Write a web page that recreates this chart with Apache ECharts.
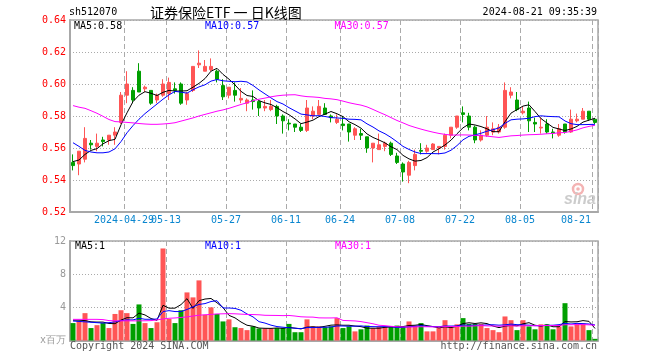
<!DOCTYPE html>
<html><head><meta charset="utf-8">
<script src="https://cdn.jsdelivr.net/npm/echarts/dist/echarts.min.js"></script>
<style>html,body{margin:0;padding:0;background:#fff}#c{width:660px;height:360px}</style>
</head><body><div id="c"></div><script>
const dates = [
 '2024-04-16','2024-04-17','2024-04-18','2024-04-19','2024-04-22','2024-04-23','2024-04-24','2024-04-25','2024-04-26','2024-04-29','2024-04-30',
 '2024-05-06','2024-05-07','2024-05-08','2024-05-09','2024-05-10','2024-05-13','2024-05-14','2024-05-15','2024-05-16','2024-05-17',
 '2024-05-20','2024-05-21','2024-05-22','2024-05-23','2024-05-24','2024-05-27','2024-05-28','2024-05-29','2024-05-30','2024-05-31',
 '2024-06-03','2024-06-04','2024-06-05','2024-06-06','2024-06-07','2024-06-11','2024-06-12','2024-06-13','2024-06-14','2024-06-17',
 '2024-06-18','2024-06-19','2024-06-20','2024-06-21','2024-06-24','2024-06-25','2024-06-26','2024-06-27','2024-06-28',
 '2024-07-01','2024-07-02','2024-07-03','2024-07-04','2024-07-05','2024-07-08','2024-07-09','2024-07-10','2024-07-11','2024-07-12',
 '2024-07-15','2024-07-16','2024-07-17','2024-07-18','2024-07-19','2024-07-22','2024-07-23','2024-07-24','2024-07-25','2024-07-26',
 '2024-07-29','2024-07-30','2024-07-31','2024-08-01','2024-08-02','2024-08-05','2024-08-06','2024-08-07','2024-08-08','2024-08-09',
 '2024-08-12','2024-08-13','2024-08-14','2024-08-15','2024-08-16','2024-08-19','2024-08-20','2024-08-21'
];
const tickIndex = [9,16,26,36,45,55,65,75,87];
const tickLabels = ['2024-04-29','05-13','05-27','06-11','06-24','07-08','07-22','08-05','08-21'];

const opens = [0.551,0.550,0.553,0.563,0.561,0.565,0.565,0.568,0.576,0.593,
 0.596,0.608,0.597,0.596,0.590,0.593,0.594,0.597,0.600,0.590,
 0.596,0.612,0.608,0.609,0.608,0.599,0.593,0.596,0.590,0.588,
 0.590,0.589,0.585,0.584,0.586,0.580,0.5755,0.575,0.573,0.571,
 0.580,0.581,0.585,0.580,0.576,0.575,0.575,0.568,0.569,0.567,
 0.560,0.559,0.561,0.563,0.555,0.550,0.543,0.549,0.5585,0.558,
 0.559,0.560,0.561,0.568,0.573,0.582,0.580,0.573,0.565,0.568,
 0.570,0.570,0.573,0.593,0.590,0.582,0.585,0.576,0.5725,0.575,
 0.570,0.568,0.575,0.570,0.577,0.578,0.583,0.578];
const closes = [0.549,0.558,0.566,0.562,0.563,0.564,0.568,0.570,0.593,0.600,
 0.590,0.595,0.598,0.588,0.593,0.600,0.601,0.596,0.588,0.594,
 0.611,0.613,0.611,0.611,0.603,0.592,0.598,0.593,0.591,0.590,
 0.589,0.585,0.586,0.586,0.580,0.577,0.575,0.573,0.571,0.585,
 0.583,0.586,0.581,0.579,0.578,0.574,0.570,0.572,0.568,0.560,
 0.563,0.562,0.563,0.556,0.551,0.545,0.551,0.556,0.558,0.560,
 0.5625,0.561,0.568,0.573,0.580,0.581,0.573,0.565,0.568,0.573,
 0.572,0.573,0.596,0.595,0.584,0.583,0.577,0.575,0.573,0.570,
 0.5695,0.572,0.570,0.578,0.578,0.583,0.578,0.576];
const highs = [0.556,0.558,0.573,0.565,0.569,0.567,0.568,0.573,0.595,0.608,
 0.598,0.613,0.599,0.596,0.594,0.603,0.604,0.601,0.601,0.595,
 0.611,0.621,0.615,0.616,0.609,0.603,0.598,0.601,0.5975,0.591,
 0.596,0.589,0.590,0.590,0.587,0.581,0.578,0.575,0.575,0.590,
 0.586,0.590,0.588,0.581,0.581,0.580,0.575,0.573,0.572,0.567,
 0.563,0.569,0.564,0.564,0.557,0.551,0.552,0.559,0.563,0.562,
 0.563,0.561,0.569,0.573,0.580,0.586,0.582,0.574,0.571,0.580,
 0.576,0.575,0.601,0.598,0.595,0.586,0.589,0.579,0.579,0.578,
 0.572,0.575,0.575,0.584,0.5815,0.585,0.583,0.578];
const lows = [0.546,0.543,0.551,0.559,0.558,0.561,0.562,0.562,0.575,0.588,
 0.588,0.595,0.595,0.587,0.588,0.592,0.590,0.594,0.587,0.587,
 0.595,0.610,0.608,0.608,0.601,0.590,0.591,0.589,0.588,0.583,
 0.584,0.580,0.583,0.583,0.575,0.569,0.571,0.570,0.570,0.570,
 0.578,0.581,0.581,0.576,0.575,0.571,0.564,0.565,0.565,0.557,
 0.551,0.559,0.558,0.555,0.550,0.539,0.538,0.546,0.556,0.557,
 0.559,0.556,0.559,0.566,0.572,0.576,0.571,0.563,0.564,0.567,
 0.568,0.569,0.572,0.591,0.583,0.581,0.570,0.570,0.569,0.569,
 0.566,0.567,0.569,0.5695,0.576,0.578,0.577,0.575];

const ma5 = [0.5515,0.5525,0.5560,0.5585,0.5596,0.5626,0.5646,0.5654,0.5745,0.5820,
 0.5890,0.5930,0.5952,0.5942,0.5928,0.5948,0.5960,0.5956,0.5956,0.5958,
 0.5980,0.6004,0.6034,0.6080,0.6098,0.6060,0.6030,0.5994,0.5954,0.5928,
 0.5922,0.5896,0.5882,0.5872,0.5852,0.5828,0.5808,0.5782,0.5752,0.5762,
 0.5774,0.5796,0.5812,0.5828,0.5814,0.5796,0.5764,0.5746,0.5724,0.5688,
 0.5666,0.5650,0.5632,0.5608,0.5590,0.5554,0.5532,0.5518,0.5522,0.5540,
 0.5575,0.5595,0.5619,0.5649,0.5689,0.5726,0.5750,0.5744,0.5734,0.5720,
 0.5702,0.5702,0.5764,0.5818,0.5840,0.5862,0.5870,0.5828,0.5784,0.5756,
 0.5729,0.5719,0.5709,0.5719,0.5735,0.5762,0.5774,0.5786];
const ma10 = [0.5633,0.5610,0.5585,0.5575,0.5570,0.5570,0.5575,0.5595,0.5640,0.5695,
 0.5740,0.5780,0.5815,0.5845,0.5875,0.5905,0.5932,0.5954,0.5949,0.5943,
 0.5964,0.5982,0.5995,0.6018,0.6028,0.6020,0.6017,0.6014,0.6017,0.6013,
 0.5991,0.5963,0.5938,0.5913,0.5890,0.5875,0.5852,0.5832,0.5812,0.5807,
 0.5801,0.5802,0.5797,0.5790,0.5788,0.5785,0.5780,0.5779,0.5776,0.5751,
 0.5731,0.5707,0.5689,0.5666,0.5639,0.5610,0.5591,0.5575,0.5565,0.5565,
 0.5565,0.5564,0.5569,0.5586,0.5615,0.5651,0.5673,0.5682,0.5692,0.5705,
 0.5714,0.5726,0.5754,0.5776,0.5780,0.5782,0.5786,0.5796,0.5801,0.5798,
 0.5796,0.5795,0.5769,0.5752,0.5746,0.5746,0.5747,0.5748];
const ma30 = [0.5865,0.5855,0.5848,0.5833,0.5817,0.5798,0.5778,0.5765,0.5763,0.5760,
 0.5757,0.5753,0.5750,0.5748,0.5748,0.5750,0.5753,0.5758,0.5768,0.5778,
 0.5788,0.5800,0.5810,0.5820,0.5830,0.5838,0.5848,0.5860,0.5872,0.5883,
 0.5896,0.5905,0.5912,0.5920,0.5926,0.5930,0.5932,0.5933,0.5926,0.5921,
 0.5919,0.5916,0.5910,0.5907,0.5902,0.5893,0.5883,0.5875,0.5868,0.5857,
 0.5841,0.5824,0.5808,0.5790,0.5772,0.5757,0.5741,0.5729,0.5718,0.5708,
 0.5699,0.5691,0.5685,0.5681,0.5681,0.5682,0.5681,0.5679,0.5678,0.5674,
 0.5670,0.5666,0.5671,0.5676,0.5678,0.5681,0.5683,0.5684,0.5686,0.5689,
 0.5691,0.5695,0.5697,0.5704,0.5713,0.5726,0.5735,0.5742];

const volumes = [2.1,2.35,3.3,1.5,1.85,2.1,1.5,3.2,3.65,3.3,
 2.0,4.35,2.1,1.5,2.2,11.1,2.6,2.1,3.65,5.8,
 5.2,7.25,3.1,4.0,3.2,2.3,2.55,1.6,1.5,1.25,
 1.7,1.45,1.45,1.45,1.5,1.5,2.0,1.0,1.0,2.55,
 1.7,1.7,1.6,1.7,2.7,1.5,1.7,1.1,1.35,1.8,
 1.5,1.65,1.65,1.65,1.8,1.65,2.3,1.8,2.1,1.1,
 1.1,1.5,2.45,1.6,1.95,2.7,2.0,2.0,2.0,1.5,
 1.25,1.0,2.9,2.45,1.25,2.45,1.7,1.35,1.95,1.95,
 1.35,1.7,4.5,1.7,2.05,2.05,1.25,0.2];
const vma5 = [2.45,2.45,2.40,2.25,2.22,2.22,2.05,2.03,2.46,2.75,
 2.73,3.30,3.08,2.65,2.43,4.25,3.90,3.90,4.33,5.05,
 3.87,4.80,5.00,5.07,4.55,3.97,3.03,2.73,2.23,1.84,
 1.72,1.50,1.47,1.46,1.51,1.47,1.58,1.49,1.40,1.61,
 1.65,1.59,1.71,1.85,1.88,1.84,1.84,1.74,1.67,1.49,
 1.49,1.48,1.59,1.65,1.65,1.68,1.81,1.84,1.93,1.79,
 1.68,1.52,1.65,1.55,1.72,2.04,2.14,2.05,2.13,2.04,
 1.75,1.55,1.73,1.82,1.77,2.01,2.15,1.84,1.74,1.88,
 1.66,1.66,2.29,2.24,2.26,2.40,2.31,1.45];
const vma10 = [2.35,2.30,2.25,2.20,2.15,2.10,2.15,2.25,2.40,2.49,
 2.48,2.68,2.56,2.56,2.59,3.49,3.60,3.49,3.49,3.74,
 4.06,4.35,4.45,4.70,4.80,3.92,3.92,3.87,3.65,3.20,
 2.85,2.27,2.10,1.85,1.68,1.60,1.54,1.48,1.43,1.56,
 1.56,1.59,1.60,1.63,1.75,1.75,1.72,1.73,1.76,1.69,
 1.67,1.66,1.67,1.66,1.57,1.59,1.65,1.72,1.79,1.72,
 1.68,1.67,1.75,1.74,1.76,1.86,1.83,1.85,1.84,1.88,
 1.90,1.85,1.89,1.98,1.91,1.88,1.85,1.79,1.78,1.83,
 1.84,1.91,2.07,1.99,2.07,2.03,1.99,1.87];
const vma30 = [2.55,2.55,2.55,2.55,2.55,2.52,2.40,2.37,2.37,2.37,
 2.37,2.37,2.38,2.40,2.48,2.60,2.68,2.72,2.78,2.85,
 2.95,3.05,3.10,3.15,3.20,3.22,3.24,3.22,3.18,3.14,
 3.13,3.10,3.04,3.03,3.02,3.00,3.02,2.95,2.86,2.83,
 2.82,2.73,2.72,2.72,2.74,2.42,2.39,2.36,2.28,2.15,
 2.02,1.84,1.79,1.71,1.66,1.64,1.63,1.64,1.66,1.66,
 1.64,1.64,1.67,1.68,1.69,1.73,1.73,1.76,1.80,1.76,
 1.75,1.72,1.77,1.79,1.74,1.78,1.78,1.78,1.80,1.81,
 1.80,1.81,1.90,1.90,1.91,1.92,1.89,1.84];

const priceLegend = ['MA5:0.58','MA10:0.57','MA30:0.57'];
const volLegend = ['MA5:1','MA10:1','MA30:1'];
const maColors = ['#000000','#0000ff','#ff00ff'];

const MONO = '"DejaVu Sans Mono", "Liberation Mono", monospace';
const UP = '#ff5555', DOWN = '#009f00';
const GRIDC = '#a8a8a8';
const LABC = '#0a86cf';
const isTick = (i) => tickIndex.indexOf(i) >= 0;

const candleData = dates.map((d, i) => [opens[i], closes[i], lows[i], highs[i]]);
const volData = volumes.map((v, i) => ({ value: v, itemStyle: { color: closes[i] > opens[i] ? UP : DOWN } }));

function txt(text, x, y, fill, font, align) {
  return { type: 'text', x: x, y: y, silent: true, z: 100,
    style: { text: text, fill: fill, font: font, textAlign: align || 'left', align: align || 'left',
      textVerticalAlign: 'middle', verticalAlign: 'middle' } };
}
const F10 = '10px ' + MONO;

const lineS = (data, color, xi, yi) => ({ type: 'line', data: data, xAxisIndex: xi, yAxisIndex: yi,
  symbol: 'none', silent: true, z: 5, lineStyle: { color: color, width: 1 }, itemStyle: { color: color } });

const dashed = { show: true, interval: (i) => isTick(i), lineStyle: { color: '#aaaaaa', type: [5, 3], width: 1 } };
const richStyles = {
  a: { fontFamily: MONO, fontSize: 10, color: LABC, padding: [0, 6, 0, 0] },
  e: { fontFamily: MONO, fontSize: 10, color: LABC, padding: [0, 38, 0, 0] }
};
// the first tick label (index 0 of tickIndex) goes on its own axis so it may overlap its neighbour, as in the source
const firstTick = tickIndex[0];

const chart = echarts.init(document.getElementById('c'));
chart.setOption({
  animation: false,
  backgroundColor: '#ffffff',
  grid: [
    { left: 70, top: 20, width: 528, height: 192, show: true, borderColor: GRIDC, borderWidth: 1.5 },
    { left: 70, top: 241, width: 528, height: 99.5, show: true, borderColor: GRIDC, borderWidth: 1.5 }
  ],
  xAxis: [
    { type: 'category', gridIndex: 0, data: dates, boundaryGap: true,
      axisLine: { show: true, lineStyle: { color: GRIDC, width: 2 } },
      axisTick: { show: false, interval: (i) => isTick(i) },
      axisLabel: { show: true, interval: (i) => isTick(i) && i !== firstTick, margin: 3, hideOverlap: false,
        fontFamily: MONO, fontSize: 10, color: LABC,
        formatter: function (v, i) {
          const k = tickIndex.indexOf(i);
          if (k <= 0) return '';
          return (k === tickLabels.length - 1 ? '{e|' : '{a|') + tickLabels[k] + '}';
        },
        rich: richStyles },
      splitLine: dashed },
    { type: 'category', gridIndex: 1, data: dates, boundaryGap: true,
      axisLine: { show: true, lineStyle: { color: GRIDC, width: 2 } },
      axisTick: { show: false }, axisLabel: { show: false },
      splitLine: dashed },
    { type: 'category', gridIndex: 0, data: dates, boundaryGap: true, position: 'bottom',
      axisLine: { show: false }, axisTick: { show: false }, splitLine: { show: false },
      axisLabel: { show: true, interval: (i) => i === firstTick, margin: 3, hideOverlap: false,
        showMinLabel: true, fontFamily: MONO, fontSize: 10, color: LABC,
        formatter: function (v, i) { return i === firstTick ? '{a|' + tickLabels[0] + '}' : ''; },
        rich: richStyles } }
  ],
  yAxis: [
    { type: 'value', gridIndex: 0, min: 0.52, max: 0.64, interval: 0.02,
      axisLine: { show: true, lineStyle: { color: GRIDC, width: 2 } }, axisTick: { show: false },
      axisLabel: { color: '#ff0000', fontFamily: MONO, fontSize: 10, margin: 4, formatter: (v) => v.toFixed(2) },
      splitLine: { show: true, lineStyle: { color: '#aaaaaa', type: [1, 2], width: 1 } } },
    { type: 'value', gridIndex: 1, min: 0, max: 12, interval: 4,
      axisLine: { show: true, lineStyle: { color: GRIDC, width: 2 } }, axisTick: { show: false },
      axisLabel: { color: '#999999', fontFamily: MONO, fontSize: 10, margin: 4,
        formatter: (v) => v === 0 ? 'x百万' : String(v) },
      splitLine: { show: true, lineStyle: { color: '#aaaaaa', type: [1, 2], width: 1 } } }
  ],
  series: [
    { type: 'candlestick', data: candleData, xAxisIndex: 0, yAxisIndex: 0, barWidth: 4, silent: true, z: 3,
      itemStyle: { color: UP, color0: DOWN, borderColor: UP, borderColor0: DOWN, borderWidth: 1 } },
    lineS(ma5, maColors[0], 0, 0), lineS(ma10, maColors[1], 0, 0), lineS(ma30, maColors[2], 0, 0),
    { type: 'bar', data: volData, xAxisIndex: 1, yAxisIndex: 1, barWidth: 5, silent: true, z: 3 },
    lineS(vma5, maColors[0], 1, 1), lineS(vma10, maColors[1], 1, 1), lineS(vma30, maColors[2], 1, 1)
  ],
  graphic: [
    { type: 'circle', silent: true, z: 1, shape: { cx: 578, cy: 189, r: 5 }, style: { fill: 'none', stroke: '#f4b4b4', lineWidth: 2.5 } },
    { type: 'circle', silent: true, z: 1, shape: { cx: 578, cy: 189, r: 1.8 }, style: { fill: '#f4b4b4' } },
    txt('sina', 564, 200, '#cccccc', 'italic bold 16px "Liberation Sans", Arial', 'left'),
    txt('sh512070', 69, 12.5, '#000', F10, 'left'),
    txt('证券保险ETF 一 日K线图', 150, 12.5, '#000', '14px "Noto Sans CJK SC"', 'left'),
    txt('2024-08-21 09:35:39', 597, 12.5, '#000', F10, 'right'),
    txt(priceLegend[0], 74, 26.5, maColors[0], F10, 'left'),
    txt(priceLegend[1], 205, 26.5, maColors[1], F10, 'left'),
    txt(priceLegend[2], 334.5, 26.5, maColors[2], F10, 'left'),
    txt(volLegend[0], 75, 246, maColors[0], F10, 'left'),
    txt(volLegend[1], 205, 246, maColors[1], F10, 'left'),
    txt(volLegend[2], 335, 246, maColors[2], F10, 'left'),
    txt('Copyright 2024 SINA.COM', 70, 346, '#555555', F10, 'left'),
    txt('http://finance.sina.com.cn', 597, 346, '#555555', F10, 'right')
  ]
});
</script></body></html>
